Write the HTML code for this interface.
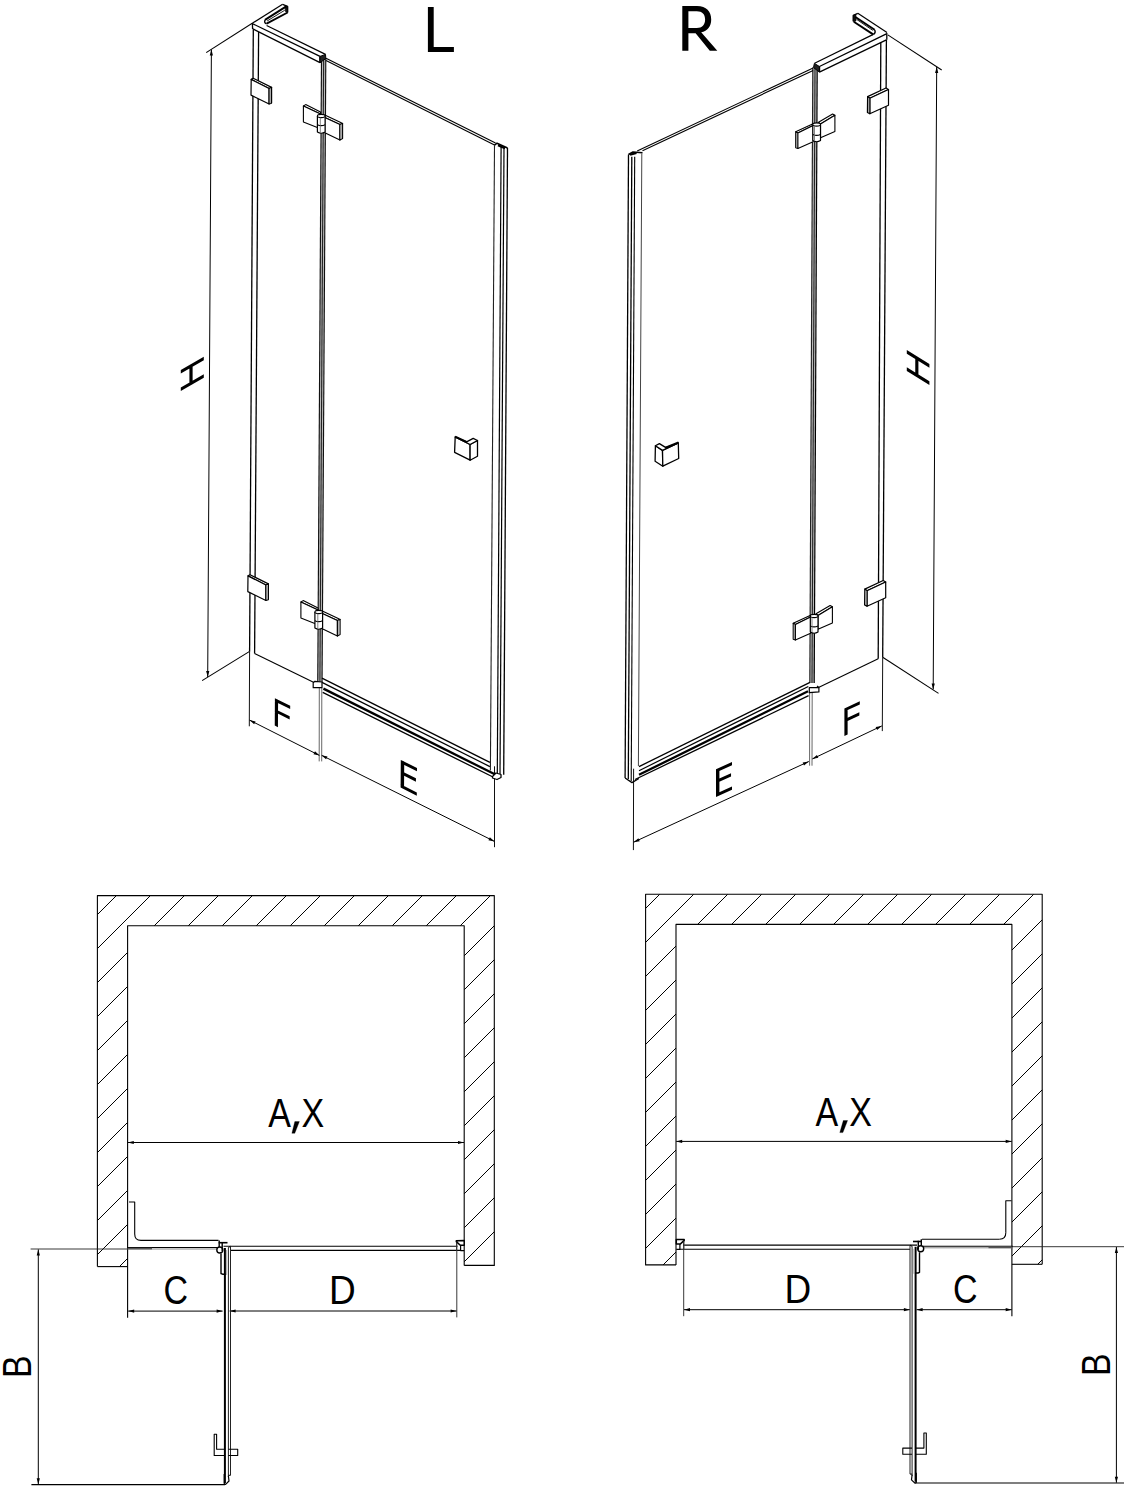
<!DOCTYPE html>
<html><head><meta charset="utf-8"><style>
html,body{margin:0;padding:0;background:#fff;}
svg{display:block;}
text{font-family:"Liberation Sans",sans-serif;fill:#000;}
</style></head><body>
<svg width="1128" height="1493" viewBox="0 0 1128 1493" stroke-linecap="butt">
<rect width="1128" height="1493" fill="#fff"/>
<line x1="211.4" y1="49.5" x2="207.7" y2="677" stroke="#000" stroke-width="1.0"/>
<polygon points="211.4,49.5 212.96,55.51 209.76,55.49" fill="#000"/>
<polygon points="207.7,677 206.14,670.99 209.34,671.01" fill="#000"/>
<line x1="206.2" y1="52.6" x2="253" y2="22.8" stroke="#000" stroke-width="1.1"/>
<line x1="202.1" y1="680.6" x2="249.6" y2="651.4" stroke="#000" stroke-width="1.1"/>
<line x1="253.3" y1="29.2" x2="249.6" y2="651.4" stroke="#000" stroke-width="1.3"/>
<line x1="258.6" y1="32" x2="254.6" y2="653.6" stroke="#000" stroke-width="1.3"/>
<line x1="249.6" y1="651.4" x2="249.3" y2="726.3" stroke="#111" stroke-width="1.0"/>
<line x1="254.6" y1="653.6" x2="314" y2="682.6" stroke="#000" stroke-width="1.1"/>
<line x1="249.5" y1="720.1" x2="319.6" y2="755.5" stroke="#000" stroke-width="1.0"/>
<polygon points="249.5,720.1 255.58,721.38 254.13,724.23" fill="#000"/>
<polygon points="319.6,755.5 313.52,754.22 314.97,751.37" fill="#000"/>
<line x1="321.4" y1="755.2" x2="494.5" y2="841.4" stroke="#000" stroke-width="1.0"/>
<polygon points="321.4,755.2 327.48,756.44 326.06,759.31" fill="#000"/>
<polygon points="494.5,841.4 488.42,840.16 489.84,837.29" fill="#000"/>
<line x1="494.5" y1="766.3" x2="494.5" y2="847.2" stroke="#111" stroke-width="1.0"/>
<polygon points="321.5,58 325.8,58 322.05,683 317.75,683" stroke="none" stroke-width="0" fill="#bbb" stroke-linejoin="round"/>
<line x1="321.5" y1="58" x2="317.75" y2="683" stroke="#111" stroke-width="1.15"/>
<line x1="323.65" y1="58" x2="319.9" y2="683" stroke="#222" stroke-width="1.1"/>
<line x1="325.8" y1="58" x2="322.05" y2="683" stroke="#111" stroke-width="1.15"/>
<line x1="319.3" y1="688" x2="319.2" y2="761.4" stroke="#555" stroke-width="0.9"/>
<line x1="321.8" y1="688" x2="321.7" y2="761.4" stroke="#555" stroke-width="0.9"/>
<line x1="253" y1="22.8" x2="282.6" y2="4.3" stroke="#000" stroke-width="1.2"/>
<polyline points="282.6,4.3 287.6,6.4 287.6,12.5" stroke="#000" stroke-width="1.3" fill="none" stroke-linejoin="round"/>
<polygon points="285,5.6 287.7,6.6 287.7,12.4 285.3,11.4" stroke="#000" stroke-width="0.6" fill="#111" stroke-linejoin="round"/>
<line x1="265" y1="19.9" x2="286.3" y2="6.4" stroke="#000" stroke-width="1.9"/>
<line x1="267.1" y1="21" x2="284.7" y2="10.3" stroke="#000" stroke-width="0.9"/>
<line x1="266.6" y1="23.7" x2="287.6" y2="12.5" stroke="#000" stroke-width="1.9"/>
<path d="M265.2,20 Q263.6,22.4 266.6,24" stroke="#000" stroke-width="1.4" fill="none" stroke-linejoin="round"/>
<line x1="266.6" y1="25.5" x2="325.5" y2="54.4" stroke="#000" stroke-width="1.2"/>
<line x1="253" y1="23.9" x2="320" y2="56.4" stroke="#000" stroke-width="1.3"/>
<line x1="253" y1="28.9" x2="320" y2="62.7" stroke="#000" stroke-width="1.3"/>
<line x1="252.4" y1="23.1" x2="252.6" y2="29" stroke="#000" stroke-width="1.3"/>
<polyline points="320,56.4 320,62.7" stroke="#000" stroke-width="1.6" fill="none" stroke-linejoin="round"/>
<polygon points="320,56.4 325.5,54.4 325.8,58.5 320,62.7" stroke="#000" stroke-width="1.0" fill="#222" stroke-linejoin="round"/>
<line x1="326" y1="58.2" x2="495.5" y2="143" stroke="#000" stroke-width="1.1"/>
<line x1="326" y1="60.4" x2="495" y2="145.2" stroke="#000" stroke-width="1.1"/>
<line x1="494.5" y1="145.2" x2="490.4" y2="770.5" stroke="#222" stroke-width="1.1"/>
<line x1="501.1" y1="147" x2="497.3" y2="774" stroke="#000" stroke-width="1.2"/>
<line x1="504" y1="147.5" x2="500" y2="774" stroke="#000" stroke-width="1.2"/>
<line x1="507.5" y1="147.9" x2="503.7" y2="774.8" stroke="#000" stroke-width="1.3"/>
<polyline points="494.5,145.2 497,143.2 507.5,147.9" stroke="#000" stroke-width="1.6" fill="none" stroke-linejoin="round"/>
<line x1="498" y1="145.3" x2="505" y2="148.3" stroke="#000" stroke-width="2.2"/>
<line x1="322" y1="678.1" x2="489.9" y2="762.4" stroke="#000" stroke-width="1.3"/>
<line x1="322" y1="682.4" x2="489.9" y2="766.6" stroke="#000" stroke-width="1.2"/>
<line x1="323.4" y1="688.6" x2="494.8" y2="774.3" stroke="#000" stroke-width="2.3"/>
<line x1="322.7" y1="692.3" x2="493" y2="777" stroke="#000" stroke-width="1.3"/>
<polygon points="313.2,682.7 314.9,681.3 322,682 322,687.7 313.2,687.7 313.2,682.7" stroke="#000" stroke-width="1.2" fill="#fff" stroke-linejoin="round"/>
<polygon points="492.5,776.5 496,773 501,774.5 501,777.5 497,779.5 492.5,778" stroke="#000" stroke-width="1.3" fill="#fff" stroke-linejoin="round"/>
<polygon points="455.2,437 470.1,444.5 470.1,460.2 454.6,452.4" stroke="#000" stroke-width="1.3" fill="#fff" stroke-linejoin="round"/>
<polygon points="470.1,444.5 477.5,440.5 477.5,456.2 470.1,460.2" stroke="#000" stroke-width="1.3" fill="#fff" stroke-linejoin="round"/>
<polygon points="455.2,437 466.6,441.8 473.2,438.4 477.5,440.5 470.1,444.5" stroke="#000" stroke-width="1.3" fill="#fff" stroke-linejoin="round"/>
<line x1="455.2" y1="436.6" x2="467" y2="442.2" stroke="#000" stroke-width="2.0"/>
<polygon points="253.2,78.3 271.6,87.4 269.1,88.5 251.2,79.4" stroke="#000" stroke-width="1.2" fill="#fff" stroke-linejoin="round"/>
<polygon points="251.2,79.4 269.1,88.5 269.1,104 251,95.1" stroke="#000" stroke-width="1.2" fill="#fff" stroke-linejoin="round"/>
<polygon points="269.1,88.5 271.6,87.4 271.6,103.1 269.1,104" stroke="#000" stroke-width="1.2" fill="#fff" stroke-linejoin="round"/>
<line x1="270.3" y1="89" x2="270.3" y2="103.5" stroke="#777" stroke-width="0.8"/>
<polygon points="250,574.8 268.4,583.9 265.9,585 248,575.9" stroke="#000" stroke-width="1.2" fill="#fff" stroke-linejoin="round"/>
<polygon points="248,575.9 265.9,585 265.9,600.5 247.8,591.6" stroke="#000" stroke-width="1.2" fill="#fff" stroke-linejoin="round"/>
<polygon points="265.9,585 268.4,583.9 268.4,599.6 265.9,600.5" stroke="#000" stroke-width="1.2" fill="#fff" stroke-linejoin="round"/>
<line x1="267.1" y1="585.5" x2="267.1" y2="600" stroke="#777" stroke-width="0.8"/>
<polygon points="305.7,104.6 320.5,112 320.5,114 303.4,106" stroke="#000" stroke-width="1.1" fill="#fff" stroke-linejoin="round"/>
<polygon points="303.4,106 320.5,114 320.5,128.7 303.4,122" stroke="#000" stroke-width="1.1" fill="#fff" stroke-linejoin="round"/>
<polygon points="324.8,115 340.2,122.2 342.6,123.4 339.9,124.6 324.8,117.4" stroke="#000" stroke-width="1.1" fill="#fff" stroke-linejoin="round"/>
<polygon points="324.8,117.4 339.9,124.6 339.9,140.1 324.8,132.7" stroke="#000" stroke-width="1.1" fill="#fff" stroke-linejoin="round"/>
<polygon points="339.9,124.6 342.6,123.4 342.6,138.6 339.9,140.1" stroke="#000" stroke-width="1.1" fill="#fff" stroke-linejoin="round"/>
<line x1="341.3" y1="124.5" x2="341.3" y2="139" stroke="#777" stroke-width="0.8"/>
<path d="M317.4,116 L317.4,132 Q321.2,134.5 325.1,132 L325.1,116" stroke="#000" stroke-width="1.2" fill="#fff" stroke-linejoin="round"/>
<ellipse cx="321.25" cy="116" rx="3.85" ry="1.6" fill="#fff" stroke="#000" stroke-width="1.1"/>
<path d="M317.4,124.7 Q321.2,126.6 325.1,124.7" stroke="#000" stroke-width="1.1" fill="none" stroke-linejoin="round"/>
<line x1="320.3" y1="117.5" x2="320.3" y2="132.5" stroke="#666" stroke-width="0.8"/>
<polygon points="303.2,600.6 318,608 318,610 300.9,602" stroke="#000" stroke-width="1.1" fill="#fff" stroke-linejoin="round"/>
<polygon points="300.9,602 318,610 318,624.7 300.9,618" stroke="#000" stroke-width="1.1" fill="#fff" stroke-linejoin="round"/>
<polygon points="322.3,611 337.7,618.2 340.1,619.4 337.4,620.6 322.3,613.4" stroke="#000" stroke-width="1.1" fill="#fff" stroke-linejoin="round"/>
<polygon points="322.3,613.4 337.4,620.6 337.4,636.1 322.3,628.7" stroke="#000" stroke-width="1.1" fill="#fff" stroke-linejoin="round"/>
<polygon points="337.4,620.6 340.1,619.4 340.1,634.6 337.4,636.1" stroke="#000" stroke-width="1.1" fill="#fff" stroke-linejoin="round"/>
<line x1="338.8" y1="620.5" x2="338.8" y2="635" stroke="#777" stroke-width="0.8"/>
<path d="M314.9,612 L314.9,628 Q318.7,630.5 322.6,628 L322.6,612" stroke="#000" stroke-width="1.2" fill="#fff" stroke-linejoin="round"/>
<ellipse cx="318.75" cy="612" rx="3.85" ry="1.6" fill="#fff" stroke="#000" stroke-width="1.1"/>
<path d="M314.9,620.7 Q318.7,622.6 322.6,620.7" stroke="#000" stroke-width="1.1" fill="none" stroke-linejoin="round"/>
<line x1="317.8" y1="613.5" x2="317.8" y2="628.5" stroke="#666" stroke-width="0.8"/>
<path d="M427.9,52.1 L433.7,52.1 L433.7,7.1 L427.9,7.1Z M427.9,52.1 L453.9,52.1 L453.9,47.1 L427.9,47.1Z" fill="#000"/>
<path d="M203.8,377.8 L203.8,374.18 L180.8,387.48 L180.8,391.1Z M203.8,360.32 L203.8,356.7 L180.8,370 L180.8,373.62Z M192.61,384.27 L192.61,363.17 L189.41,365.02 L189.41,386.12Z" fill="#000"/>
<path d="M274.75,725.6 L277.95,727.19 L278.1,699.79 L274.9,698.2Z M274.88,701.39 L290.18,708.99 L290.2,705.8 L274.9,698.2Z M274.82,712.12 L289.66,719.5 L289.68,716.31 L274.84,708.94Z" fill="#000"/>
<path d="M400.6,787.6 L404.04,789.32 L404.24,761.62 L400.8,759.9Z M400.78,763.2 L416.98,771.3 L417,768 L400.8,759.9Z M400.6,787.6 L416.8,795.7 L416.82,792.4 L400.62,784.3Z M400.7,774.01 L415.93,781.63 L415.95,778.33 L400.72,770.72Z" fill="#000"/>
<line x1="936.7" y1="67" x2="933.2" y2="689.4" stroke="#000" stroke-width="1.0"/>
<polygon points="936.7,67 938.27,73.01 935.07,72.99" fill="#000"/>
<polygon points="933.2,689.4 931.63,683.39 934.83,683.41" fill="#000"/>
<line x1="887.8" y1="34.9" x2="941.7" y2="70" stroke="#000" stroke-width="1.1"/>
<line x1="882.7" y1="657.2" x2="938.5" y2="693.4" stroke="#000" stroke-width="1.1"/>
<line x1="886.4" y1="39.8" x2="882.7" y2="657.2" stroke="#000" stroke-width="1.3"/>
<line x1="880.8" y1="42.2" x2="878.2" y2="658.7" stroke="#000" stroke-width="1.3"/>
<line x1="882.7" y1="657.2" x2="882.3" y2="731.1" stroke="#111" stroke-width="1.0"/>
<line x1="878.2" y1="658.7" x2="818.5" y2="687.6" stroke="#000" stroke-width="1.1"/>
<line x1="812.2" y1="759" x2="881.8" y2="725.9" stroke="#000" stroke-width="1.0"/>
<polygon points="812.2,759 816.93,754.98 818.31,757.87" fill="#000"/>
<polygon points="881.8,725.9 877.07,729.92 875.69,727.03" fill="#000"/>
<line x1="633.6" y1="842.2" x2="808.8" y2="761.5" stroke="#000" stroke-width="1.0"/>
<polygon points="633.6,842.2 638.38,838.24 639.72,841.14" fill="#000"/>
<polygon points="808.8,761.5 804.02,765.46 802.68,762.56" fill="#000"/>
<line x1="633.6" y1="768.7" x2="633.4" y2="850.1" stroke="#111" stroke-width="1.0"/>
<polygon points="812.8,67.4 817.2,67.4 814.2,683 809.8,683" stroke="none" stroke-width="0" fill="#bbb" stroke-linejoin="round"/>
<line x1="812.8" y1="67.4" x2="809.8" y2="683" stroke="#222" stroke-width="1.15"/>
<line x1="815" y1="67.4" x2="812" y2="683" stroke="#222" stroke-width="1.1"/>
<line x1="817.2" y1="67.4" x2="814.2" y2="683" stroke="#000" stroke-width="1.2"/>
<line x1="809.6" y1="692" x2="809.6" y2="765.7" stroke="#555" stroke-width="0.9"/>
<line x1="812.2" y1="692" x2="812" y2="765.7" stroke="#555" stroke-width="0.9"/>
<line x1="887" y1="32.6" x2="857.8" y2="13.3" stroke="#000" stroke-width="1.2"/>
<polyline points="857.8,13.3 853.3,15.4 853.3,21.3" stroke="#000" stroke-width="1.3" fill="none" stroke-linejoin="round"/>
<polygon points="853.2,15.3 855.9,14.6 856,21 853.2,21.6" stroke="#000" stroke-width="0.6" fill="#111" stroke-linejoin="round"/>
<line x1="855.4" y1="17" x2="874.6" y2="29.8" stroke="#000" stroke-width="1.9"/>
<line x1="856.5" y1="19.3" x2="872.8" y2="30.4" stroke="#000" stroke-width="0.9"/>
<line x1="853.8" y1="21.8" x2="873.5" y2="34.6" stroke="#000" stroke-width="1.9"/>
<path d="M874.4,29.6 Q876.3,32 873.5,34.6" stroke="#000" stroke-width="1.4" fill="none" stroke-linejoin="round"/>
<line x1="872.8" y1="34.6" x2="814.6" y2="63.3" stroke="#000" stroke-width="1.2"/>
<line x1="886.4" y1="33.8" x2="819.4" y2="66.5" stroke="#000" stroke-width="1.3"/>
<line x1="886.4" y1="39.8" x2="819.4" y2="72.1" stroke="#000" stroke-width="1.3"/>
<line x1="886.8" y1="33" x2="886.8" y2="39.8" stroke="#000" stroke-width="1.3"/>
<polyline points="819.4,66.5 819.4,72.1" stroke="#000" stroke-width="1.6" fill="none" stroke-linejoin="round"/>
<polygon points="819.4,66.5 814.4,63.4 813.5,67.5 819.4,72.1" stroke="#000" stroke-width="1.0" fill="#222" stroke-linejoin="round"/>
<line x1="813.1" y1="68.1" x2="637.2" y2="151" stroke="#000" stroke-width="1.1"/>
<line x1="813.1" y1="70.4" x2="642.5" y2="150.8" stroke="#000" stroke-width="1.1"/>
<line x1="628.5" y1="154.5" x2="625.1" y2="778" stroke="#000" stroke-width="1.3"/>
<line x1="631.8" y1="156.7" x2="628.3" y2="779" stroke="#000" stroke-width="1.3"/>
<line x1="634.7" y1="156.7" x2="631.2" y2="781" stroke="#000" stroke-width="1.1"/>
<line x1="641.8" y1="153.6" x2="638.4" y2="766" stroke="#444" stroke-width="1.0"/>
<polyline points="628.5,154.5 633,152 642.5,152.7" stroke="#000" stroke-width="1.6" fill="none" stroke-linejoin="round"/>
<line x1="630" y1="154.8" x2="636.5" y2="153" stroke="#000" stroke-width="2.2"/>
<line x1="639" y1="766.6" x2="810" y2="682.3" stroke="#000" stroke-width="1.3"/>
<line x1="639" y1="770.7" x2="808.3" y2="686.5" stroke="#000" stroke-width="1.2"/>
<line x1="639" y1="774.8" x2="808" y2="691.2" stroke="#000" stroke-width="2.3"/>
<line x1="635" y1="779.5" x2="808.6" y2="695.6" stroke="#000" stroke-width="1.3"/>
<polygon points="809.3,687.7 818.9,687.7 818.9,691.9 809.3,692.6" stroke="#000" stroke-width="1.2" fill="#fff" stroke-linejoin="round"/>
<line x1="817" y1="686" x2="819" y2="687.5" stroke="#000" stroke-width="1.2"/>
<polyline points="625.1,778 632,782.6 638.9,778.5" stroke="#000" stroke-width="1.3" fill="none" stroke-linejoin="round"/>
<polygon points="655.4,445.8 662.5,450.4 662.8,466.2 655.1,461.3" stroke="#000" stroke-width="1.3" fill="#fff" stroke-linejoin="round"/>
<polygon points="662.5,450.4 678.3,443 678.7,458.5 662.8,466.2" stroke="#000" stroke-width="1.3" fill="#fff" stroke-linejoin="round"/>
<polygon points="655.4,445.8 659.4,443.6 665.9,447.6 678.3,443 662.5,450.4" stroke="#000" stroke-width="1.3" fill="#fff" stroke-linejoin="round"/>
<line x1="665.5" y1="447.8" x2="678.5" y2="442.5" stroke="#000" stroke-width="2.0"/>
<polygon points="867.6,96.6 886,88 888.5,89.5 869.8,98.2" stroke="#000" stroke-width="1.2" fill="#fff" stroke-linejoin="round"/>
<polygon points="869.8,98.2 888.5,89.5 888.5,105.3 869.8,113.7" stroke="#000" stroke-width="1.2" fill="#fff" stroke-linejoin="round"/>
<polygon points="867.6,96.6 869.8,98.2 869.8,113.7 867.4,112.4" stroke="#000" stroke-width="1.2" fill="#fff" stroke-linejoin="round"/>
<line x1="868.7" y1="98" x2="868.7" y2="112.5" stroke="#777" stroke-width="0.8"/>
<polygon points="864.8,589.1 883.2,580.5 885.7,582 867,590.7" stroke="#000" stroke-width="1.2" fill="#fff" stroke-linejoin="round"/>
<polygon points="867,590.7 885.7,582 885.7,597.8 867,606.2" stroke="#000" stroke-width="1.2" fill="#fff" stroke-linejoin="round"/>
<polygon points="864.8,589.1 867,590.7 867,606.2 864.6,604.9" stroke="#000" stroke-width="1.2" fill="#fff" stroke-linejoin="round"/>
<line x1="865.9" y1="590.5" x2="865.9" y2="605" stroke="#777" stroke-width="0.8"/>
<polygon points="818.5,122.3 832.6,114 834.9,115.3 820.5,124" stroke="#000" stroke-width="1.1" fill="#fff" stroke-linejoin="round"/>
<polygon points="820.5,124 834.9,115.3 834.9,131.4 820.5,137.7" stroke="#000" stroke-width="1.1" fill="#fff" stroke-linejoin="round"/>
<polygon points="795.7,131.7 813.1,123.7 813.1,125.6 797.9,133" stroke="#000" stroke-width="1.1" fill="#fff" stroke-linejoin="round"/>
<polygon points="795.7,131.7 797.9,133 797.9,148.5 795.7,147.8" stroke="#000" stroke-width="1.1" fill="#fff" stroke-linejoin="round"/>
<polygon points="797.9,133 813.1,125.6 813.1,141.8 797.9,148.5" stroke="#000" stroke-width="1.1" fill="#fff" stroke-linejoin="round"/>
<line x1="796.8" y1="133" x2="796.8" y2="147.5" stroke="#777" stroke-width="0.8"/>
<path d="M812.8,124.5 L812.8,140.5 Q816.6,143 820.5,140.5 L820.5,124.5" stroke="#000" stroke-width="1.2" fill="#fff" stroke-linejoin="round"/>
<ellipse cx="816.65" cy="124.5" rx="3.85" ry="1.6" fill="#fff" stroke="#000" stroke-width="1.1"/>
<path d="M812.8,134.4 Q816.6,136.3 820.5,134.4" stroke="#000" stroke-width="1.1" fill="none" stroke-linejoin="round"/>
<line x1="814.5" y1="126" x2="814.5" y2="140.5" stroke="#666" stroke-width="0.8"/>
<polygon points="816,613.8 830.1,605.5 832.4,606.8 818,615.5" stroke="#000" stroke-width="1.1" fill="#fff" stroke-linejoin="round"/>
<polygon points="818,615.5 832.4,606.8 832.4,622.9 818,629.2" stroke="#000" stroke-width="1.1" fill="#fff" stroke-linejoin="round"/>
<polygon points="793.2,623.2 810.6,615.2 810.6,617.1 795.4,624.5" stroke="#000" stroke-width="1.1" fill="#fff" stroke-linejoin="round"/>
<polygon points="793.2,623.2 795.4,624.5 795.4,640 793.2,639.3" stroke="#000" stroke-width="1.1" fill="#fff" stroke-linejoin="round"/>
<polygon points="795.4,624.5 810.6,617.1 810.6,633.3 795.4,640" stroke="#000" stroke-width="1.1" fill="#fff" stroke-linejoin="round"/>
<line x1="794.3" y1="624.5" x2="794.3" y2="639" stroke="#777" stroke-width="0.8"/>
<path d="M810.3,616 L810.3,632 Q814.1,634.5 818,632 L818,616" stroke="#000" stroke-width="1.2" fill="#fff" stroke-linejoin="round"/>
<ellipse cx="814.15" cy="616" rx="3.85" ry="1.6" fill="#fff" stroke="#000" stroke-width="1.1"/>
<path d="M810.3,625.9 Q814.1,627.8 818,625.9" stroke="#000" stroke-width="1.1" fill="none" stroke-linejoin="round"/>
<line x1="812" y1="617.5" x2="812" y2="632" stroke="#666" stroke-width="0.8"/>
<path fill-rule="evenodd" d="M682.3,6 H697 C706.5,6 711.2,11.5 711.2,19.5 C711.2,26.5 707.5,31 701.2,32.3 L717.3,50.7 H709.8 L695.6,33.2 H688.4 V50.7 H682.3 Z M688.4,11.2 H696.8 C702.3,11.2 705.1,14.2 705.1,19.6 C705.1,25 702.1,28.1 696.8,28.1 H688.4 Z" stroke="none" stroke-width="0" fill="#000" stroke-linejoin="round"/>
<path d="M929.4,384.9 L929.4,381.33 L906.8,367.33 L906.8,370.9Z M929.4,367.67 L929.4,364.1 L906.8,350.1 L906.8,353.67Z M918.41,378.09 L918.41,357.29 L915.26,355.34 L915.26,376.14Z" fill="#000"/>
<path d="M844.4,736.1 L847.62,734.62 L847.62,706.92 L844.4,708.4Z M844.4,711.62 L859.8,704.52 L859.8,701.3 L844.4,708.4Z M844.4,722.48 L859.34,715.59 L859.34,712.37 L844.4,719.25Z" fill="#000"/>
<path d="M716,797 L719.4,795.47 L719.4,767.67 L716,769.2Z M716,772.51 L732,765.31 L732,762 L716,769.2Z M716,797 L732,789.8 L732,786.49 L716,793.69Z M716,783.37 L731.04,776.6 L731.04,773.29 L716,780.05Z" fill="#000"/>
<clipPath id="h1"><polygon points="97.4,895.6 494.3,895.6 494.3,1265.4 464.2,1265.4 464.2,925.8 127.6,925.8 127.6,1266.6 97.4,1266.6"/></clipPath>
<path d="M-254.6,1266.6 L116.4,895.6 M-220.6,1266.6 L150.4,895.6 M-186.6,1266.6 L184.4,895.6 M-152.6,1266.6 L218.4,895.6 M-118.6,1266.6 L252.4,895.6 M-84.6,1266.6 L286.4,895.6 M-50.6,1266.6 L320.4,895.6 M-16.6,1266.6 L354.4,895.6 M17.4,1266.6 L388.4,895.6 M51.4,1266.6 L422.4,895.6 M85.4,1266.6 L456.4,895.6 M119.4,1266.6 L490.4,895.6 M153.4,1266.6 L524.4,895.6 M187.4,1266.6 L558.4,895.6 M221.4,1266.6 L592.4,895.6 M255.4,1266.6 L626.4,895.6 M289.4,1266.6 L660.4,895.6 M323.4,1266.6 L694.4,895.6 M357.4,1266.6 L728.4,895.6 M391.4,1266.6 L762.4,895.6 M425.4,1266.6 L796.4,895.6 M459.4,1266.6 L830.4,895.6 M493.4,1266.6 L864.4,895.6" stroke="#000" stroke-width="1" clip-path="url(#h1)"/>
<polyline points="97.4,1266.6 97.4,895.6 494.3,895.6 494.3,1265.4 464.2,1265.4" stroke="#000" stroke-width="1.1" fill="none" stroke-linejoin="round"/>
<line x1="97.4" y1="1266.6" x2="127.6" y2="1266.6" stroke="#000" stroke-width="1.1"/>
<polyline points="127.6,1317.8 127.6,925.8 464.2,925.8 464.2,1265.4" stroke="#000" stroke-width="1.1" fill="none" stroke-linejoin="round"/>
<line x1="127.8" y1="1142.5" x2="464" y2="1142.5" stroke="#000" stroke-width="1.0"/>
<polygon points="127.8,1142.5 133.8,1140.9 133.8,1144.1" fill="#000"/>
<polygon points="464,1142.5 458,1144.1 458,1140.9" fill="#000"/>
<line x1="30.6" y1="1249" x2="127.6" y2="1249" stroke="#222" stroke-width="0.9"/>
<line x1="31.4" y1="1484.6" x2="225" y2="1484.6" stroke="#000" stroke-width="1.1"/>
<line x1="38.3" y1="1249.4" x2="38.3" y2="1484.3" stroke="#000" stroke-width="1.0"/>
<polygon points="38.3,1249.4 39.9,1255.4 36.7,1255.4" fill="#000"/>
<polygon points="38.3,1484.3 36.7,1478.3 39.9,1478.3" fill="#000"/>
<line x1="128.2" y1="1311.1" x2="222.6" y2="1311.1" stroke="#000" stroke-width="1.0"/>
<polygon points="128.2,1311.1 134.2,1309.5 134.2,1312.7" fill="#000"/>
<polygon points="222.6,1311.1 216.6,1312.7 216.6,1309.5" fill="#000"/>
<line x1="229.6" y1="1311" x2="456.6" y2="1311" stroke="#000" stroke-width="1.0"/>
<polygon points="229.6,1311 235.6,1309.4 235.6,1312.6" fill="#000"/>
<polygon points="456.6,1311 450.6,1312.6 450.6,1309.4" fill="#000"/>
<polyline points="129,1202 134.7,1202 134.7,1234" stroke="#000" stroke-width="1.1" fill="none" stroke-linejoin="round"/>
<path d="M134.7,1234 Q134.7,1240.4 141,1240.4" stroke="#000" stroke-width="1.1" fill="none" stroke-linejoin="round"/>
<line x1="141" y1="1240.4" x2="218.5" y2="1240.4" stroke="#000" stroke-width="1.1"/>
<line x1="127.6" y1="1247.5" x2="217.5" y2="1247.5" stroke="#000" stroke-width="1.1"/>
<line x1="127.6" y1="1249" x2="217" y2="1249" stroke="#888" stroke-width="1.0"/>
<line x1="128" y1="1248.6" x2="152" y2="1248.6" stroke="#555" stroke-width="1.6"/>
<line x1="223.5" y1="1246.3" x2="457.5" y2="1246.3" stroke="#000" stroke-width="1.1"/>
<line x1="230.5" y1="1250.4" x2="460.5" y2="1250.4" stroke="#000" stroke-width="1.1"/>
<line x1="456.6" y1="1241.2" x2="456.6" y2="1250.8" stroke="#555" stroke-width="1.0"/>
<polygon points="456.3,1240.8 464.2,1240.6 464.2,1245.3 460.3,1245.3 456.3,1241.6" stroke="#000" stroke-width="1.5" fill="#fff" stroke-linejoin="round"/>
<polyline points="460.6,1245.3 460.6,1250.6 464.2,1250.6" stroke="#000" stroke-width="1.2" fill="none" stroke-linejoin="round"/>
<line x1="456.8" y1="1241.6" x2="456.8" y2="1317.4" stroke="#222" stroke-width="0.9"/>
<line x1="224.9" y1="1248" x2="224.9" y2="1483" stroke="#000" stroke-width="2.0"/>
<line x1="228.4" y1="1247.5" x2="228.4" y2="1477" stroke="#222" stroke-width="1.0"/>
<line x1="230.5" y1="1246.3" x2="230.5" y2="1475.3" stroke="#222" stroke-width="1.0"/>
<line x1="226.6" y1="1250" x2="226.6" y2="1275" stroke="#999" stroke-width="0.8"/>
<polyline points="230.5,1475.3 228.4,1475.3" stroke="#000" stroke-width="1.0" fill="none" stroke-linejoin="round"/>
<polyline points="224.2,1474 224.2,1483.6 225.6,1484.4 229,1481 228.4,1476" stroke="#000" stroke-width="1.2" fill="none" stroke-linejoin="round"/>
<polyline points="228.4,1247.5 230.5,1246.3" stroke="#000" stroke-width="1.0" fill="none" stroke-linejoin="round"/>
<circle cx="219.8" cy="1250" r="3.0" fill="#fff" stroke="#000" stroke-width="1.4"/>
<polyline points="218.7,1242.7 227.5,1242.7" stroke="#000" stroke-width="1.6" fill="none" stroke-linejoin="round"/>
<polyline points="219.2,1240.4 219.2,1247" stroke="#000" stroke-width="1.4" fill="none" stroke-linejoin="round"/>
<polyline points="222.2,1242 222.2,1251" stroke="#000" stroke-width="1.4" fill="none" stroke-linejoin="round"/>
<polyline points="221,1253.4 221,1273.5 222.5,1274.2 225.6,1274.2" stroke="#000" stroke-width="1.4" fill="none" stroke-linejoin="round"/>
<polyline points="224.9,1449.3 216.6,1449.3 216.6,1434.2 214.2,1434.2 214.2,1455.5 224.9,1455.5" stroke="#000" stroke-width="1.1" fill="none" stroke-linejoin="round"/>
<polyline points="228.4,1449.3 237.7,1449.3 237.7,1455.5 228.4,1455.5" stroke="#000" stroke-width="1.1" fill="none" stroke-linejoin="round"/>
<text x="0" y="0" font-size="100.0" transform="matrix(0.34 0 0 0.4 268.13 1126.9)">A</text>
<polygon points="294.8,1121.6 299.4,1121.6 294.8,1133.3 291.9,1133.3" stroke="#000" stroke-width="0.3" fill="#000" stroke-linejoin="round"/>
<text x="0" y="0" font-size="100.0" transform="matrix(0.34 0 0 0.4 301.43 1126.9)">X</text>
<text x="0" y="0" font-size="100.0" transform="matrix(0.34 0 0 0.41 163.39 1304.3)">C</text>
<text x="0" y="0" font-size="100.0" transform="matrix(0.37 0 0 0.4 329.08 1303.8)">D</text>
<text x="0" y="0" font-size="100.0" transform="matrix(0 -0.34 0.4 0 30.9 1377.89)">B</text>
<clipPath id="h2"><polygon points="645.6,894.2 1042.2,894.2 1042.2,1264.3 1011.9,1264.3 1011.9,924.4 676,924.4 676,1264.9 645.6,1264.9"/></clipPath>
<path d="M289.1,1264.9 L659.8,894.2 M323.1,1264.9 L693.8,894.2 M357.1,1264.9 L727.8,894.2 M391.1,1264.9 L761.8,894.2 M425.1,1264.9 L795.8,894.2 M459.1,1264.9 L829.8,894.2 M493.1,1264.9 L863.8,894.2 M527.1,1264.9 L897.8,894.2 M561.1,1264.9 L931.8,894.2 M595.1,1264.9 L965.8,894.2 M629.1,1264.9 L999.8,894.2 M663.1,1264.9 L1033.8,894.2 M697.1,1264.9 L1067.8,894.2 M731.1,1264.9 L1101.8,894.2 M765.1,1264.9 L1135.8,894.2 M799.1,1264.9 L1169.8,894.2 M833.1,1264.9 L1203.8,894.2 M867.1,1264.9 L1237.8,894.2 M901.1,1264.9 L1271.8,894.2 M935.1,1264.9 L1305.8,894.2 M969.1,1264.9 L1339.8,894.2 M1003.1,1264.9 L1373.8,894.2 M1037.1,1264.9 L1407.8,894.2" stroke="#000" stroke-width="1" clip-path="url(#h2)"/>
<polyline points="1042.2,1264.3 1042.2,894.2 645.6,894.2 645.6,1264.9 676,1264.9" stroke="#000" stroke-width="1.1" fill="none" stroke-linejoin="round"/>
<line x1="1042.2" y1="1264.3" x2="1011.9" y2="1264.3" stroke="#000" stroke-width="1.1"/>
<polyline points="1011.9,1316.3 1011.9,924.4 676,924.4 676,1264.9" stroke="#000" stroke-width="1.1" fill="none" stroke-linejoin="round"/>
<line x1="676.2" y1="1141.4" x2="1011.7" y2="1141.4" stroke="#000" stroke-width="1.0"/>
<polygon points="676.2,1141.4 682.2,1139.8 682.2,1143" fill="#000"/>
<polygon points="1011.7,1141.4 1005.7,1143 1005.7,1139.8" fill="#000"/>
<line x1="1011.9" y1="1246.7" x2="1124" y2="1246.7" stroke="#222" stroke-width="0.9"/>
<line x1="915.2" y1="1483" x2="1124" y2="1483" stroke="#000" stroke-width="1.1"/>
<line x1="1116.4" y1="1247" x2="1116.4" y2="1482.7" stroke="#000" stroke-width="1.0"/>
<polygon points="1116.4,1247 1118,1253 1114.8,1253" fill="#000"/>
<polygon points="1116.4,1482.7 1114.8,1476.7 1118,1476.7" fill="#000"/>
<line x1="916.6" y1="1309.7" x2="1011.7" y2="1309.7" stroke="#000" stroke-width="1.0"/>
<polygon points="916.6,1309.7 922.6,1308.1 922.6,1311.3" fill="#000"/>
<polygon points="1011.7,1309.7 1005.7,1311.3 1005.7,1308.1" fill="#000"/>
<line x1="684" y1="1309.7" x2="909.9" y2="1309.7" stroke="#000" stroke-width="1.0"/>
<polygon points="684,1309.7 690,1308.1 690,1311.3" fill="#000"/>
<polygon points="909.9,1309.7 903.9,1311.3 903.9,1308.1" fill="#000"/>
<polyline points="1011.5,1200.8 1005.8,1200.8 1005.8,1232.8" stroke="#000" stroke-width="1.1" fill="none" stroke-linejoin="round"/>
<path d="M1005.8,1232.8 Q1005.8,1239.2 999.5,1239.2" stroke="#000" stroke-width="1.1" fill="none" stroke-linejoin="round"/>
<line x1="999.5" y1="1239.2" x2="922" y2="1239.2" stroke="#000" stroke-width="1.1"/>
<line x1="1012.9" y1="1246.3" x2="923" y2="1246.3" stroke="#000" stroke-width="1.1"/>
<line x1="1012.9" y1="1247.8" x2="923.5" y2="1247.8" stroke="#888" stroke-width="1.0"/>
<line x1="1012.5" y1="1247.4" x2="988.5" y2="1247.4" stroke="#555" stroke-width="1.6"/>
<line x1="917" y1="1245.1" x2="683" y2="1245.1" stroke="#000" stroke-width="1.1"/>
<line x1="910" y1="1249.2" x2="680" y2="1249.2" stroke="#000" stroke-width="1.1"/>
<line x1="683.9" y1="1240" x2="683.9" y2="1249.6" stroke="#555" stroke-width="1.0"/>
<polygon points="684.2,1239.6 676.3,1239.4 676.3,1244.1 680.2,1244.1 684.2,1240.4" stroke="#000" stroke-width="1.5" fill="#fff" stroke-linejoin="round"/>
<polyline points="679.9,1244.1 679.9,1249.4 676.3,1249.4" stroke="#000" stroke-width="1.2" fill="none" stroke-linejoin="round"/>
<line x1="683.7" y1="1240.4" x2="683.7" y2="1316.2" stroke="#222" stroke-width="0.9"/>
<line x1="915.6" y1="1246.8" x2="915.6" y2="1481.8" stroke="#000" stroke-width="2.0"/>
<line x1="912.1" y1="1246.3" x2="912.1" y2="1475.8" stroke="#222" stroke-width="1.0"/>
<line x1="910" y1="1245.1" x2="910" y2="1474.1" stroke="#222" stroke-width="1.0"/>
<line x1="913.9" y1="1248.8" x2="913.9" y2="1273.8" stroke="#999" stroke-width="0.8"/>
<polyline points="910,1474.1 912.1,1474.1" stroke="#000" stroke-width="1.0" fill="none" stroke-linejoin="round"/>
<polyline points="916.3,1472.8 916.3,1482.4 914.9,1483.2 911.5,1479.8 912.1,1474.8" stroke="#000" stroke-width="1.2" fill="none" stroke-linejoin="round"/>
<polyline points="912.1,1246.3 910,1245.1" stroke="#000" stroke-width="1.0" fill="none" stroke-linejoin="round"/>
<circle cx="920.7" cy="1248.8" r="3.0" fill="#fff" stroke="#000" stroke-width="1.4"/>
<polyline points="921.8,1241.5 913,1241.5" stroke="#000" stroke-width="1.6" fill="none" stroke-linejoin="round"/>
<polyline points="921.3,1239.2 921.3,1245.8" stroke="#000" stroke-width="1.4" fill="none" stroke-linejoin="round"/>
<polyline points="918.3,1240.8 918.3,1249.8" stroke="#000" stroke-width="1.4" fill="none" stroke-linejoin="round"/>
<polyline points="919.5,1252.2 919.5,1272.3 918,1273 914.9,1273" stroke="#000" stroke-width="1.4" fill="none" stroke-linejoin="round"/>
<polyline points="915.6,1448.1 923.9,1448.1 923.9,1433 926.3,1433 926.3,1454.3 915.6,1454.3" stroke="#000" stroke-width="1.1" fill="none" stroke-linejoin="round"/>
<polyline points="912.1,1448.1 902.8,1448.1 902.8,1454.3 912.1,1454.3" stroke="#000" stroke-width="1.1" fill="none" stroke-linejoin="round"/>
<text x="0" y="0" font-size="100.0" transform="matrix(0.34 0 0 0.4 815.53 1125.8)">A</text>
<polygon points="843.3,1120.5 847.6,1120.5 842.9,1132.6 839.8,1132.6" stroke="#000" stroke-width="0.3" fill="#000" stroke-linejoin="round"/>
<text x="0" y="0" font-size="100.0" transform="matrix(0.34 0 0 0.4 849.23 1125.8)">X</text>
<text x="0" y="0" font-size="100.0" transform="matrix(0.34 0 0 0.41 952.89 1303.2)">C</text>
<text x="0" y="0" font-size="100.0" transform="matrix(0.37 0 0 0.4 784.45 1303.2)">D</text>
<text x="0" y="0" font-size="100.0" transform="matrix(0 -0.34 0.4 0 1109.6 1376.02)">B</text>
</svg></body></html>
